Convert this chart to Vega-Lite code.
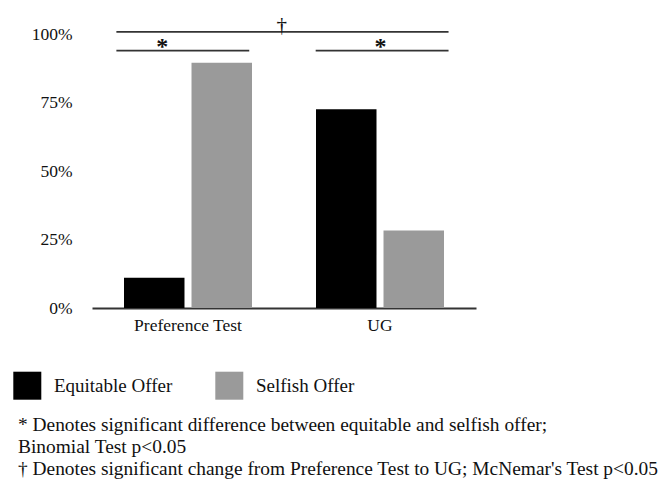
{
  "$schema": "https://vega.github.io/schema/vega-lite/v6.json",
  "width": 384,
  "height": 274,
  "autosize": "none",
  "padding": {"left": 92, "top": 34, "right": 186, "bottom": 179},
  "background": "white",
  "config": {
    "view": {"stroke": null},
    "font": "Liberation Serif, Times New Roman, serif",
    "axis": {"labelFont": "Liberation Serif, Times New Roman, serif"},
    "text": {"font": "Liberation Serif, Times New Roman, serif"},
    "mark": {"font": "Liberation Serif, Times New Roman, serif"}
  },
  "datasets": {
    "bars": [
      {"test": "Preference Test", "offer": "Equitable Offer", "pct": 11},
      {"test": "Preference Test", "offer": "Selfish Offer", "pct": 89.5},
      {"test": "UG", "offer": "Equitable Offer", "pct": 72.5},
      {"test": "UG", "offer": "Selfish Offer", "pct": 28.3}
    ],
    "lines": [
      {"x1": 0.127, "x2": 1.857, "y": 100.8},
      {"x1": 0.127, "x2": 0.819, "y": 93.9},
      {"x1": 1.165, "x2": 1.857, "y": 93.9}
    ],
    "daggers": [{"x": 0.988, "y": 100.8, "label": "†"}],
    "stars": [
      {"x": 0.366, "y": 93.9, "label": "*"},
      {"x": 1.502, "y": 93.9, "label": "*"}
    ]
  },
  "title": {
    "text": [
      "* Denotes significant difference between equitable and selfish offer;",
      "Binomial Test p<0.05",
      "† Denotes significant change from Preference Test to UG; McNemar's Test p<0.05"
    ],
    "orient": "bottom",
    "anchor": "start",
    "frame": "group",
    "font": "Liberation Serif, Times New Roman, serif",
    "fontSize": 19.4,
    "fontWeight": "normal",
    "color": "#111",
    "lineHeight": 22,
    "dx": -74,
    "offset": 16
  },
  "layer": [
    {
      "data": {"name": "bars"},
      "mark": {"type": "bar"},
      "encoding": {
        "x": {
          "field": "test",
          "type": "nominal",
          "sort": ["Preference Test", "UG"],
          "scale": {"paddingInner": 0, "paddingOuter": 0},
          "axis": {
            "title": null,
            "labelAngle": 0,
            "labelFont": "Liberation Serif, Times New Roman, serif",
            "labelFontSize": 17.5,
            "labelColor": "#111",
            "ticks": false,
            "tickSize": 0,
            "domainColor": "#333",
            "domainWidth": 1.8,
            "labelPadding": 8
          }
        },
        "xOffset": {
          "field": "offer",
          "type": "nominal",
          "sort": ["Equitable Offer", "Selfish Offer"],
          "scale": {"paddingInner": 0.104, "paddingOuter": 0.474}
        },
        "y": {
          "field": "pct",
          "type": "quantitative",
          "scale": {"domain": [0, 100]},
          "axis": {
            "title": null,
            "values": [0, 25, 50, 75, 100],
            "labelExpr": "datum.value + '%'",
            "grid": false,
            "domain": false,
            "ticks": false,
            "tickSize": 0,
            "labelPadding": 20,
            "labelFont": "Liberation Serif, Times New Roman, serif",
            "labelFontSize": 17.5,
            "labelColor": "#111"
          }
        },
        "color": {
          "field": "offer",
          "type": "nominal",
          "scale": {"domain": ["Equitable Offer", "Selfish Offer"], "range": ["#000000", "#9a9a9a"]},
          "legend": {
            "orient": "none",
            "legendX": -78.7,
            "legendY": 337.7,
            "direction": "horizontal",
            "title": null,
            "padding": 0,
            "symbolType": "square",
            "symbolSize": 784,
            "symbolStrokeWidth": 0,
            "symbolOpacity": 1,
            "labelFont": "Liberation Serif, Times New Roman, serif",
            "labelFontSize": 19,
            "labelColor": "#111",
            "labelOffset": 12.6,
            "columnPadding": 43
          }
        }
      }
    },
    {
      "data": {"name": "lines"},
      "mark": {"type": "rule", "color": "#333", "strokeWidth": 1.8},
      "encoding": {
        "x": {"field": "x1", "type": "quantitative", "scale": {"domain": [0, 2], "nice": false, "zero": false}, "axis": null},
        "x2": {"field": "x2"},
        "y": {"field": "y", "type": "quantitative"}
      }
    },
    {
      "data": {"name": "daggers"},
      "mark": {"type": "text", "font": "Liberation Serif, Times New Roman, serif", "fontSize": 21, "baseline": "alphabetic", "align": "center", "dy": 0, "color": "#111"},
      "encoding": {
        "x": {"field": "x", "type": "quantitative", "scale": {"domain": [0, 2], "nice": false, "zero": false}, "axis": null},
        "y": {"field": "y", "type": "quantitative"},
        "text": {"field": "label"}
      }
    },
    {
      "data": {"name": "stars"},
      "mark": {"type": "text", "font": "Liberation Serif, Times New Roman, serif", "fontSize": 24, "fontWeight": "bold", "baseline": "alphabetic", "align": "center", "dy": 3, "color": "#111"},
      "encoding": {
        "x": {"field": "x", "type": "quantitative", "scale": {"domain": [0, 2], "nice": false, "zero": false}, "axis": null},
        "y": {"field": "y", "type": "quantitative"},
        "text": {"field": "label"}
      }
    }
  ],
  "resolve": {"scale": {"x": "independent"}}
}
